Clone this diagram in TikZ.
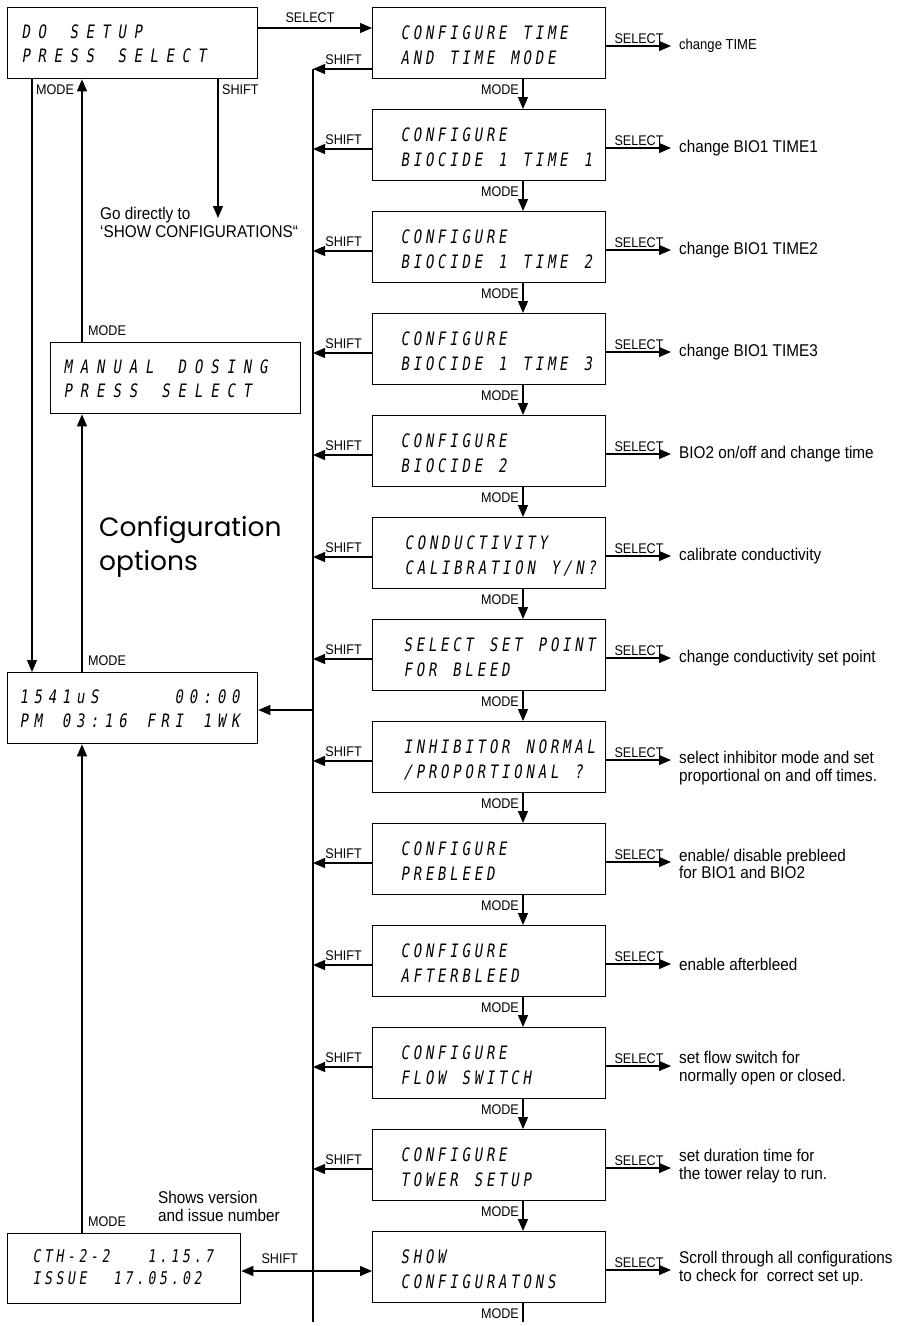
\documentclass[tikz,border=0pt]{standalone}
\usepackage{fontspec}
\usetikzlibrary{arrows.meta}
\setmainfont{Liberation Sans}[FakeStretch=0.9]
\newfontfamily\lcdfont[FakeStretch=0.75,FakeSlant=0.15]{DejaVu Sans Mono}
\newfontfamily\bigfont{Poppins}

\ExplSyntaxOn
\NewDocumentCommand\lcdline{mm}
  {
    \str_map_inline:nn {#2}
      {
        \str_if_eq:nnTF {##1} {_}
          { \makebox[#1][l]{} }
          { \makebox[#1][l]{##1} }
      }
  }
\ExplSyntaxOff
\newcommand\lcdtwo[4]{\makebox[#1][l]{\vbox{\hbox{\lcdline{#2}{#3}}\hbox{\lcdline{#2}{#4}}}}}

\begin{document}
\begin{tikzpicture}[x=1pt,y=-1pt,
  lcd/.style={draw, line width=1.3pt, inner sep=0pt, anchor=north west},
  rbox/.style={lcd, minimum width=233pt, minimum height=71pt, text height=57pt, text depth=14pt,
               font=\lcdfont\fontsize{18.5}{25}\selectfont},
  lbox/.style={lcd, minimum width=250pt, minimum height=71pt, text height=55pt, text depth=16pt,
               font=\lcdfont\fontsize{18.5}{24}\selectfont},
  conn/.style={line width=1.2pt},
  arr/.style={conn, -{Triangle[length=12pt,width=10pt]}},
  arrtwo/.style={conn, {Triangle[length=12pt,width=10pt]}-{Triangle[length=12pt,width=10pt]}},
  spineline/.style={line width=1.7pt},
  lbl/.style={inner sep=0pt, font=\fontsize{14}{14}\selectfont},
  desc/.style={inner sep=0pt, anchor=west, align=left, font=\fontsize{17}{17.5}\selectfont},
]
\useasboundingbox (0,0) rectangle (903,1326);

% ---------- right column boxes ----------
\node[rbox] (r1)  at (372,7)    {\lcdtwo{177pt}{12.2pt}{CONFIGURE TIME}{AND TIME MODE}};
\node[rbox] (r2)  at (372,109)  {\lcdtwo{177pt}{12.2pt}{CONFIGURE}{BIOCIDE 1 TIME 1}};
\node[rbox] (r3)  at (372,211)  {\lcdtwo{177pt}{12.2pt}{CONFIGURE}{BIOCIDE 1 TIME 2}};
\node[rbox] (r4)  at (372,313)  {\lcdtwo{177pt}{12.2pt}{CONFIGURE}{BIOCIDE 1 TIME 3}};
\node[rbox] (r5)  at (372,415)  {\lcdtwo{177pt}{12.2pt}{CONFIGURE}{BIOCIDE 2}};
\node[rbox] (r6)  at (372,517)  {\lcdtwo{169pt}{12.2pt}{CONDUCTIVITY}{CALIBRATION Y/N?}};
\node[rbox] (r7)  at (372,619)  {\lcdtwo{171pt}{12.2pt}{SELECT SET POINT}{FOR BLEED}};
\node[rbox] (r8)  at (372,721)  {\lcdtwo{171pt}{12.2pt}{INHIBITOR NORMAL}{/PROPORTIONAL ?}};
\node[rbox] (r9)  at (372,823)  {\lcdtwo{177pt}{12.2pt}{CONFIGURE}{PREBLEED}};
\node[rbox] (r10) at (372,925)  {\lcdtwo{177pt}{12.2pt}{CONFIGURE}{AFTERBLEED}};
\node[rbox] (r11) at (372,1027) {\lcdtwo{177pt}{12.2pt}{CONFIGURE}{FLOW SWITCH}};
\node[rbox] (r12) at (372,1129) {\lcdtwo{177pt}{12.2pt}{CONFIGURE}{TOWER SETUP}};
\node[rbox] (r13) at (372,1231) {\lcdtwo{177pt}{12.2pt}{SHOW}{CONFIGURATONS}};

% ---------- descriptions ----------
\node[desc, font=\fontsize{14.5}{16}\selectfont] (d1) at (679,46) {change TIME};
\node[desc] (d2)  at (679,148)  {change BIO1 TIME1};
\node[desc] (d3)  at (679,250)  {change BIO1 TIME2};
\node[desc] (d4)  at (679,352)  {change BIO1 TIME3};
\node[desc] (d5)  at (679,454)  {BIO2 on/off and change time};
\node[desc] (d6)  at (679,556)  {calibrate conductivity};
\node[desc] (d7)  at (679,658)  {change conductivity set point};
\node[desc] (d8)  at (679,768)  {select inhibitor mode and set\\proportional on and off times.};
\node[desc] (d9)  at (679,864)  {enable/ disable prebleed\\for BIO1 and BIO2};
\node[desc] (d10) at (679,964)  {enable afterbleed};
\node[desc] (d11) at (679,1068) {set flow switch for\\normally open or closed.};
\node[desc] (d12) at (679,1166) {set duration time for\\the tower relay to run.};
\node[desc] (d13) at (679,1268) {Scroll through all configurations\\to check for\ \ correct set up.};

% ---------- left column ----------
\node[lbox] (dosetup) at (7,7)   {\lcdtwo{222pt}{16pt}{DO SETUP}{PRESS SELECT}};
\node[lbox] (manual)  at (50,342) {\lcdtwo{224pt}{16.3pt}{MANUAL DOSING}{PRESS SELECT}};
\node[lbox] (main)    at (7,672)  {\lcdtwo{226pt}{14.1pt}{1541uS_____00:00}{PM 03:16 FRI 1WK}};
\node[lcd, minimum width=233pt, minimum height=70pt, text height=51pt, text depth=19pt,
      font=\lcdfont\fontsize{17.5}{22}\selectfont] (cth) at (7,1233)
      {\lcdtwo{183pt}{11.5pt}{CTH-2-2___1.15.7}{ISSUE__17.05.02}};

\node[inner sep=0pt, anchor=north west, align=left, font=\bigfont\fontsize{26.5}{34}\selectfont]
  (cfg) at (99,516) {Configuration\\options};
\node[desc, anchor=north west] (goto) at (100,207) {Go directly to\\‘SHOW CONFIGURATIONS“};
\node[desc, anchor=north west] (ver) at (158,1191) {Shows version\\and issue number};

% ---------- lanes ----------
\coordinate (spine) at (313,0);
\coordinate (lane) at (523,0);
\coordinate (lA) at (32,0);
\coordinate (lB) at (82,0);
\coordinate (lS) at (218,0);
\coordinate (spineEnd) at (313,1322);
\coordinate (modeEnd) at (523,1322);
\coordinate (gotoTip) at (218,218);

% DO SETUP -> CONFIGURE TIME
\path ([yshift=-21pt]dosetup.north east) coordinate (ds);
\draw[arr] (ds) -- (ds -| r1.west);
\node[lbl, anchor=base west] (dsl) at ([xshift=27pt,yshift=6pt]ds) {SELECT};

% SHIFT arrows into spine
\path ([yshift=-62pt]r1.north west) coordinate (sh1);
\foreach \i in {2,...,13} {\path ([yshift=-40pt]r\i.north west) coordinate (sh\i);}
\draw[spineline] (sh1 -| spine) -- (spineEnd);
\foreach \i in {1,...,12} {
  \draw[arr] (sh\i) -- (sh\i -| spine);
  \node[lbl, anchor=base east] (shl\i) at ([xshift=-10pt,yshift=5pt]sh\i) {SHIFT};
}

% SELECT arrows
\foreach \i in {1,...,13} {
  \path ([yshift=-39pt]r\i.north east) coordinate (se\i);
  \draw[arr, shorten >=8pt] (se\i) -- (se\i -| d\i.west);
  \node[lbl, anchor=base west] (sel\i) at ([xshift=8pt,yshift=3pt]se\i) {SELECT};
}

% MODE arrows down the column
\foreach \i [evaluate=\i as \j using int(\i+1)] in {1,...,12} {
  \path (r\i.south -| lane) coordinate (mo\i);
  \draw[arr] (mo\i) -- (r\j.north -| lane);
  \node[lbl, anchor=north east] (ml\i) at ([xshift=-4pt,yshift=-5pt]mo\i) {MODE};
}
\path (r13.south -| lane) coordinate (mo13);
\draw[conn] (mo13) -- (modeEnd);
\node[lbl, anchor=north east] (ml13) at ([xshift=-4pt,yshift=-5pt]mo13) {MODE};

% spine -> main display
\path ([yshift=-38pt]main.north east) coordinate (mIn);
\draw[arr] (mIn -| spine) -- (mIn);

% SHOW CONFIGURATONS <-> version box
\path (sh13 -| cth.east) coordinate (c13);
\draw[arrtwo] (c13) -- (sh13);
\node[lbl, anchor=base west] (shl13) at ([xshift=20pt,yshift=8pt]c13) {SHIFT};

% left side MODE / SHIFT connectors
\path (dosetup.south -| lA) coordinate (a1);
\draw[arr] (a1) -- (main.north -| lA);
\node[lbl, anchor=north west] (mla) at ([xshift=4pt,yshift=-5pt]a1) {MODE};

\path (manual.north -| lB) coordinate (b1);
\draw[arr] (b1) -- (dosetup.south -| lB);
\node[lbl, anchor=south west] (mlb1) at ([xshift=6pt,yshift=6pt]b1) {MODE};

\path (main.north -| lB) coordinate (b2);
\draw[arr] (b2) -- (manual.south -| lB);
\node[lbl, anchor=south west] (mlb2) at ([xshift=6pt,yshift=6pt]b2) {MODE};

\path (cth.north -| lB) coordinate (b3);
\draw[arr] (b3) -- (main.south -| lB);
\node[lbl, anchor=south west] (mlb3) at ([xshift=6pt,yshift=6pt]b3) {MODE};

\path (dosetup.south -| lS) coordinate (s1);
\draw[arr] (s1) -- (gotoTip);
\node[lbl, anchor=north west] (sls) at ([xshift=4pt,yshift=-5pt]s1) {SHIFT};

\end{tikzpicture}
\end{document}
